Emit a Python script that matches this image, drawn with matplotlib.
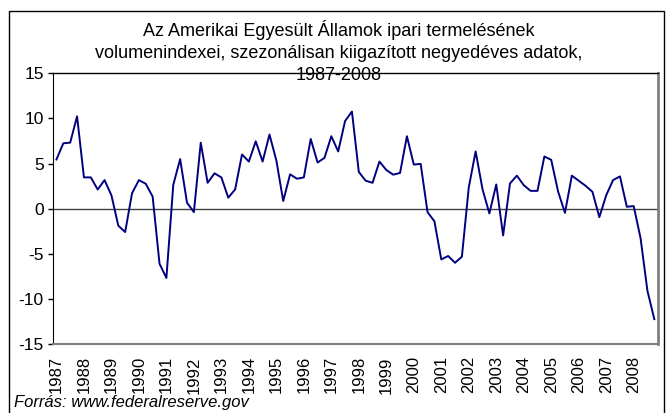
import matplotlib.pyplot as plt
from matplotlib.patches import Rectangle

plt.rcParams["font.family"] = ["Liberation Sans", "DejaVu Sans"]
plt.rcParams["axes.unicode_minus"] = False

# negyedéves adatok, 1987 Q1 - 2008 Q4
values = [
    5.45, 7.24, 7.31, 10.22, 3.47, 3.47, 2.13, 3.17,
    1.49, -1.87, -2.57, 1.72, 3.17, 2.76, 1.34, -6.08,
    -7.65, 2.65, 5.49, 0.67, -0.37, 7.31, 2.87, 3.92,
    3.47, 1.23, 2.13, 6.00, 5.22, 7.46, 5.22, 8.21,
    5.34, 0.86, 3.81, 3.32, 3.47, 7.72, 5.11, 5.63,
    8.02, 6.34, 9.70, 10.75, 4.07, 3.10, 2.87, 5.22,
    4.29, 3.77, 3.96, 8.02, 4.89, 4.96, -0.37, -1.38,
    -5.60, -5.22, -5.97, -5.30, 2.35, 6.34, 2.16, -0.52,
    2.69, -2.95, 2.80, 3.66, 2.61, 1.98, 1.98, 5.78,
    5.41, 1.90, -0.45, 3.66, 3.10, 2.54, 1.87, -0.93,
    1.49, 3.17, 3.58, 0.22, 0.30, -3.25, -9.07, -12.2,
]
years = [str(y) for y in range(1987, 2009)]

title = ("Az Amerikai Egyesült Államok ipari termelésének\n"
         "volumenindexei, szezonálisan kiigazított negyedéves adatok,\n"
         "1987-2008")
source = "Forrás: www.federalreserve.gov"

fig = plt.figure(figsize=(6.66, 4.13), dpi=100)
ax = fig.add_axes([0.0796, 0.166, 0.908, 0.657])

x = list(range(len(values)))
ax.plot(x, values, color="#000080", lw=1.4, zorder=3)
ax.axhline(0, color="#404040", lw=1, zorder=2)

ax.set_xlim(-0.5, len(values) - 0.5)
ax.set_ylim(-15, 15)
ax.set_yticks(range(-15, 16, 5))
ax.set_xticks(range(0, len(values), 4))
ax.set_xticklabels(years, rotation=90)
ax.tick_params(axis="x", length=0, pad=8.5, labelsize=12)
ax.tick_params(axis="y", length=3.6, width=1, pad=3, labelsize=12.5, direction="out")

ax.spines["left"].set_color("#000000")
ax.spines["top"].set_color("#000000")
ax.spines["top"].set_linewidth(1)
ax.spines["right"].set_color("#808080")
ax.spines["right"].set_linewidth(2)
ax.spines["bottom"].set_color("#808080")
ax.spines["bottom"].set_linewidth(1.5)

fig.text(0.508, (413 - 52) / 413, title, ha="center", va="center",
         fontsize=13, linespacing=1.4)
fig.text(14 / 666, (413 - 402) / 413, source, ha="left", va="center",
         fontsize=12, style="italic")

border = Rectangle((9 / 666, -0.05), 655 / 666, 0.05 + (413 - 11) / 413,
                   transform=fig.transFigure, fill=False, edgecolor="black",
                   lw=1, clip_on=False)
fig.patches.append(border)

fig.savefig("out.png", dpi=100)
